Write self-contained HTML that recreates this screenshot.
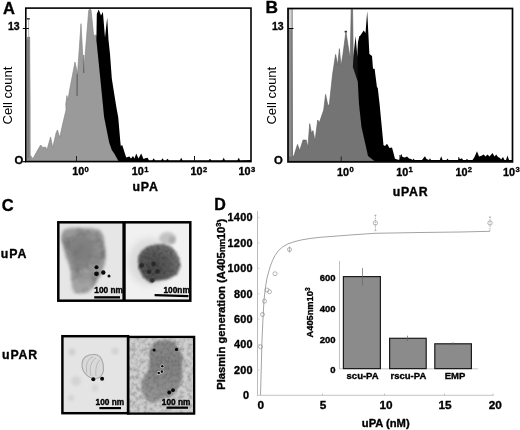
<!DOCTYPE html>
<html>
<head>
<meta charset="utf-8">
<title>Figure</title>
<style>
html,body{margin:0;padding:0;background:#fff;}
body{width:520px;height:430px;overflow:hidden;}
svg{display:block;}
text{font-family:"Liberation Sans",Arial,Helvetica,sans-serif;fill:#000;}
.b{font-weight:bold;stroke:#000;stroke-width:0.35px;stroke-linejoin:round;}
</style>
</head>
<body>
<svg width="520" height="430" viewBox="0 0 520 430">
<defs>
  <filter id="bl1" x="-20%" y="-20%" width="140%" height="140%"><feGaussianBlur stdDeviation="1.6"/></filter>
  <filter id="bl2" x="-20%" y="-20%" width="140%" height="140%"><feGaussianBlur stdDeviation="1.1"/></filter>
  <filter id="bl3" x="-30%" y="-30%" width="160%" height="160%"><feGaussianBlur stdDeviation="3"/></filter>
  <filter id="bl05" x="-20%" y="-20%" width="140%" height="140%"><feGaussianBlur stdDeviation="0.5"/></filter>
  <filter id="tex" x="-10%" y="-10%" width="120%" height="120%">
    <feGaussianBlur in="SourceGraphic" stdDeviation="1.5" result="sb"/>
    <feTurbulence type="fractalNoise" baseFrequency="0.11" numOctaves="2" seed="7" result="n"/>
    <feColorMatrix in="n" type="matrix" values="0 0 0 0 0  0 0 0 0 0  0 0 0 0 0  0.9 0 0 0 -0.36" result="a"/>
    <feComposite in="a" in2="sb" operator="in" result="t"/>
    <feMerge><feMergeNode in="sb"/><feMergeNode in="t"/></feMerge>
  </filter>
  <filter id="tex2" x="-10%" y="-10%" width="120%" height="120%">
    <feGaussianBlur in="SourceGraphic" stdDeviation="1.2" result="sb"/>
    <feTurbulence type="fractalNoise" baseFrequency="0.3" numOctaves="2" seed="11" result="n"/>
    <feColorMatrix in="n" type="matrix" values="0 0 0 0 0  0 0 0 0 0  0 0 0 0 0  0.8 0 0 0 -0.33" result="a"/>
    <feComposite in="a" in2="sb" operator="in" result="t"/>
    <feMerge><feMergeNode in="sb"/><feMergeNode in="t"/></feMerge>
  </filter>
  <filter id="bgn" x="0" y="0" width="100%" height="100%">
    <feTurbulence type="fractalNoise" baseFrequency="0.25" numOctaves="2" seed="5" result="n"/>
    <feColorMatrix in="n" type="matrix" values="0 0 0 0 0  0 0 0 0 0  0 0 0 0 0  0.9 0 0 0 -0.33" result="a"/>
    <feComposite in="a" in2="SourceGraphic" operator="in" result="t"/>
    <feMerge><feMergeNode in="SourceGraphic"/><feMergeNode in="t"/></feMerge>
  </filter>
  <radialGradient id="g2" gradientUnits="userSpaceOnUse" cx="153" cy="268" r="30">
    <stop offset="0" stop-color="#484848"/><stop offset="0.55" stop-color="#5a5a5a"/><stop offset="1" stop-color="#7a7a7a"/>
  </radialGradient>
  <linearGradient id="g4" gradientUnits="userSpaceOnUse" x1="165" y1="340" x2="160" y2="404">
    <stop offset="0" stop-color="#8a8a8a"/><stop offset="0.4" stop-color="#808080"/><stop offset="0.75" stop-color="#8e8e8e"/><stop offset="1" stop-color="#989898"/>
  </linearGradient>
  <linearGradient id="g1" gradientUnits="userSpaceOnUse" x1="80" y1="228" x2="80" y2="294">
    <stop offset="0" stop-color="#9c9c9c"/><stop offset="0.35" stop-color="#8b8b8b"/><stop offset="0.7" stop-color="#9d9d9d"/><stop offset="1" stop-color="#a5a5a5"/>
  </linearGradient>
  <clipPath id="c1"><rect x="59" y="223" width="64" height="77"/></clipPath>
  <clipPath id="c2"><rect x="126" y="223" width="63" height="77"/></clipPath>
  <clipPath id="c3"><rect x="62.5" y="336.5" width="65.5" height="76.5"/></clipPath>
  <clipPath id="c4"><rect x="128.5" y="337.5" width="65.2" height="75.8"/></clipPath>
</defs>
<rect x="0" y="0" width="520" height="430" fill="#fff"/>

<!-- ================= Panel A ================= -->
<g id="panelA">
  <text class="b" x="3" y="13.8" font-size="16.5">A</text>
  <text class="b" x="8" y="30" font-size="10.5">13</text>
  <text class="b" x="14.6" y="164" font-size="11.3">O</text>
  <line x1="22.6" y1="161.7" x2="26" y2="161.7" stroke="#000" stroke-width="1.2"/>
  <text transform="translate(12.2,124.5) rotate(-90)" font-size="13">Cell count</text>
  <!-- gray histogram -->
  <polygon fill="#9a9a9a" stroke="#808080" stroke-width="0.6" points="27,161 27.2,100 27.6,37 29.7,37 30,100 30,155 33,158.7 36,153 40.6,145 43,147.5 45.6,147 46.9,150 50.6,137 52.7,147.5 56.2,132.5 57.5,130 59.7,137.5 63,122.5 66,110 65.8,104 66.9,95.6 68,100 69.4,91 75,62 77.5,73.7 81,23.7 83.7,73 88.7,10.5 90,8.6 91.1,10.5 93.7,36 95.6,35 97,36 97,40 100.8,78.5 104.6,117 109.7,142.5 112.3,150 114.9,153.7 119,161"/>
  <line x1="77.2" y1="74" x2="77" y2="96" stroke="#444" stroke-width="0.8"/>
  <line x1="83.7" y1="55" x2="83.7" y2="73" stroke="#555" stroke-width="0.8"/>
  <polygon fill="#8c8c8c" points="26.6,160 26.6,40 27.6,37 29.7,37 30.2,100 30.4,155 30.4,160"/>
  <line x1="28.2" y1="40" x2="28.2" y2="158" stroke="#555" stroke-width="0.5"/>
  <line x1="28.6" y1="19.6" x2="28.6" y2="37" stroke="#bcbcbc" stroke-width="1.1"/>
  <rect x="26.8" y="18" width="3" height="1.6" fill="#444"/>
  <!-- black histogram -->
  <polygon fill="#000" points="96.4,40 96.8,14 98.7,9.4 101,15.6 102.9,11.9 105,37.5 107.2,17.5 108.5,40 110,54 111.8,78.5 114.4,95 116.5,108 118.2,117 120.4,142.5 120.8,146 122.2,145 126.2,157.5 129.4,156.5 131,158.5 133,156 134.5,158.5 136.2,153.5 138.5,158.5 141.2,153.5 143.5,159 146,158 147.5,157.8 149,160.3 152.4,160.3 153.7,158.3 155.0,160.3 161.2,160.3 162.5,158.3 163.8,160.3 166.2,160.3 167.5,158.8 168.8,160.3 179.9,160.3 181.2,157.8 182.5,160.3 208.7,160.3 210.0,158.8 211.3,160.3 222.4,160.3 223.7,157.8 225.0,160.3 237.4,160.3 238.7,157.8 240.0,160.3 251,160 251,161.5 118.7,161.5 114.4,153.7 111.8,150 109.2,142.5 104.1,117 100.3,78.5"/>
  <!-- axis box -->
  <rect x="25.8" y="8.1" width="225.2" height="153.5" fill="none" stroke="#000" stroke-width="1.6"/>
  <line x1="22.8" y1="28.5" x2="28.8" y2="28.5" stroke="#000" stroke-width="1"/>
  <line x1="76.5" y1="156" x2="76.5" y2="161" stroke="#222" stroke-width="1"/>
  <line x1="194.5" y1="156" x2="194.5" y2="161" stroke="#111" stroke-width="1"/>
  <!-- x labels -->
  <text class="b" x="72.2" y="175.1" font-size="10.8">10<tspan dy="-3.2" dx="0.4" font-size="7.6">0</tspan></text>
  <text class="b" x="131.8" y="175.1" font-size="10.8">10<tspan dy="-3.2" dx="0.4" font-size="7.6">1</tspan></text>
  <text class="b" x="190.6" y="175.1" font-size="10.8">10<tspan dy="-3.2" dx="0.4" font-size="7.6">2</tspan></text>
  <text class="b" x="238.6" y="175.1" font-size="10.8">10<tspan dy="-3.2" dx="0.4" font-size="7.6">3</tspan></text>
  <text class="b" x="132.4" y="190.7" font-size="12.3" letter-spacing="0.9">uPA</text>
</g>

<!-- ================= Panel B ================= -->
<g id="panelB">
  <text class="b" x="265.6" y="13.1" font-size="17.3">B</text>
  <text class="b" x="272" y="30" font-size="10.5">13</text>
  <text class="b" x="274" y="164" font-size="11.3">O</text>
  <text transform="translate(275.6,124.6) rotate(-90)" font-size="13">Cell count</text>
  <polygon fill="#747474" stroke="#5c5c5c" stroke-width="0.6" points="288.7,161 288.7,9 292,9 292.5,155 293.5,157 297.5,144.4 299.7,150.6 303,140 306.2,140 307.9,147.5 309.7,123.7 311.5,133 313,130.6 315,141 317.7,120 319.4,122.5 323.7,110 325.6,94.4 328,106 329.4,104 332.5,75 335.6,54.4 337.7,65 339.4,48.7 341,66 343,54 345.9,32 349.4,54 350,58 350.3,54 351.2,9.4 352.6,9.4 353.2,54 353.5,60 357.5,60 358.2,80 359.5,104 362,127 367.2,150 368.5,156 375,161"/>
  <rect x="289" y="9" width="3" height="19.5" fill="#d2d2d2"/>
  <rect x="289.1" y="28.5" width="2.6" height="128" fill="#8e8e8e"/>
  <line x1="292.1" y1="9" x2="292.1" y2="155" stroke="#666" stroke-width="0.6"/>
  <polygon fill="#111" points="352.9,67 353.4,56 355.6,35.9 357.4,57 358,50 358,81 357.2,80"/>
  <rect x="344.6" y="30.8" width="2.4" height="1.6" fill="#333"/>
  <polygon fill="#000" points="357.5,50 358,42 359.4,36 360,36 363.7,30.6 365.5,33 367.2,11.2 369.4,54 372,56 373,68.7 374.6,68.7 377,87.5 377.7,87.5 379.6,104 380.8,116.7 383.3,143 383.4,145 385,146 387,143.7 389.5,148 392,147.5 395,158.7 398,159.8 399.5,159.8 401.2,153.8 402.5,157 405,157.5 407,156.5 409,158.5 411,159 412.8,160 413.7,158.5 414.6,160 422,160 423.5,158 425,156.2 426.5,159 429,160 430,158.3 431,160 439.8,160 441.2,156.2 442.6,160 446.5,160 447.5,158.5 448.5,160 458,160 459,158.3 460.5,159 462,158.3 463,160 466,160 467,158.8 468,160 472.5,160 474.5,157 477,151.3 479,156.5 481,156 483.7,154.5 485.5,156.5 487.5,154.5 489.5,156.5 492.5,153 494.5,156.5 496.2,154.5 498,157 500,158 501,159.5 503,157 504.5,160 506,160 507.5,155.5 509,160 512.5,160 512.5,161.5 375,161.5 368,156 366.7,150 361.5,127 359,104 357.7,80"/>
  <rect x="288" y="8.5" width="224.5" height="153.4" fill="none" stroke="#000" stroke-width="1.7"/>
  <line x1="288" y1="28.5" x2="293.5" y2="28.5" stroke="#000" stroke-width="1"/>
  <line x1="341.2" y1="156.5" x2="341.2" y2="161" stroke="#222" stroke-width="1"/>
  <line x1="400" y1="155" x2="400" y2="161" stroke="#000" stroke-width="1"/>
  <line x1="458.7" y1="157" x2="458.7" y2="161" stroke="#000" stroke-width="0.8"/>
  <text class="b" x="337" y="175.6" font-size="10.8">10<tspan dy="-3.2" dx="0.4" font-size="7.6">0</tspan></text>
  <text class="b" x="396.2" y="175.6" font-size="10.8">10<tspan dy="-3.2" dx="0.4" font-size="7.6">1</tspan></text>
  <text class="b" x="455.4" y="175.6" font-size="10.8">10<tspan dy="-3.2" dx="0.4" font-size="7.6">2</tspan></text>
  <text class="b" x="503" y="175.6" font-size="10.8">10<tspan dy="-3.2" dx="0.4" font-size="7.6">3</tspan></text>
  <text class="b" x="392.7" y="196.4" font-size="12.3" letter-spacing="0.8">uPAR</text>
</g>

<!-- ================= Panel C ================= -->
<g id="panelC">
  <text class="b" x="1.8" y="210.6" font-size="16.5">C</text>
  <text class="b" x="0.8" y="258.2" font-size="12.3" letter-spacing="0.9">uPA</text>
  <text class="b" x="2.1" y="358.8" font-size="12.3" letter-spacing="0.8">uPAR</text>

  <!-- row 1 left -->
  <rect x="58" y="222" width="66" height="79" fill="#e6e6e6"/>
  <g clip-path="url(#c1)">
    <polygon filter="url(#tex)" fill="url(#g1)" points="61.5,234 64,229.5 72,227.8 92,228.2 100,230 103.5,236 105,248 105.8,258 104,266 100.8,275 96,283 89,292 82,293.5 75,293 72,288 71,275 70,267 66,256 63.5,248 61.7,240"/>
    <ellipse filter="url(#bl3)" cx="82" cy="250" rx="12" ry="16" fill="#787878" opacity="0.7"/>
    <circle cx="96.5" cy="267.3" r="2" fill="#0a0a0a"/>
    <circle cx="96.5" cy="273.8" r="2.4" fill="#0a0a0a"/>
    <circle cx="103.3" cy="272.5" r="2.2" fill="#0a0a0a"/>
    <circle cx="109" cy="276" r="1.5" fill="#111"/>
    <text class="b" x="94.3" y="292.6" font-size="8.3">100 nm</text>
    <rect x="94.2" y="296.2" width="25.8" height="2.3" fill="#000"/>
  </g>
  <!-- row 1 right -->
  <rect x="125" y="222" width="65" height="79" fill="#f1f1f1"/>
  <g clip-path="url(#c2)">
    <ellipse filter="url(#bl3)" cx="150" cy="262" rx="22" ry="24" fill="#dcdcdc"/>
    <ellipse filter="url(#bl1)" cx="167.5" cy="238.5" rx="8.5" ry="6.5" fill="#c2c2c2"/>
    <ellipse filter="url(#bl1)" cx="172" cy="240" rx="3" ry="3.5" fill="#a8a8a8"/>
    <polygon filter="url(#tex2)" fill="url(#g2)" points="138.2,256.3 141.5,251 146.8,246.7 155,244.5 163,243.9 171.6,246.7 176,252 179.3,258.2 180.8,265.8 177.3,274.4 167.8,279.2 155.4,281 150.6,283 143,277.3 138.2,267.7"/>
    <circle filter="url(#bl05)" cx="141.7" cy="265.5" r="2.4" fill="#2c2c2c"/>
    <circle filter="url(#bl05)" cx="153.6" cy="264" r="2.4" fill="#2c2c2c"/>
    <circle filter="url(#bl05)" cx="149.2" cy="271.8" r="2.4" fill="#2c2c2c"/>
    <circle filter="url(#bl05)" cx="157.5" cy="271.4" r="2.4" fill="#2c2c2c"/>
    <circle filter="url(#bl05)" cx="152.2" cy="280.3" r="2.4" fill="#333"/>
    <text class="b" x="163.5" y="293" font-size="8.3">100nm</text>
    <polygon fill="#000" points="154.6,294 188.5,295 188.5,297.2 154.6,296.2"/>
  </g>
  <rect x="58.3" y="222.3" width="132" height="78.4" fill="none" stroke="#000" stroke-width="2.5"/>
  <rect x="122.4" y="222" width="3.3" height="79" fill="#000"/>

  <!-- row 2 left -->
  <rect x="62" y="336" width="66.5" height="77.5" fill="#e4e4e4"/>
  <g clip-path="url(#c3)">
    <circle filter="url(#bl1)" cx="72" cy="352" r="3.5" fill="#cfcfcf"/>
    <circle filter="url(#bl1)" cx="115" cy="351" r="3.5" fill="#d2d2d2"/>
    <circle filter="url(#bl1)" cx="76" cy="381" r="5" fill="#d4d4d4"/>
    <circle filter="url(#bl1)" cx="71" cy="398" r="3" fill="#d2d2d2"/>
    <circle filter="url(#bl1)" cx="95" cy="388" r="3.5" fill="#d6d6d6"/>
    <path filter="url(#bl05)" d="M82,365 C82,357 88,354 95,354.5 C101,355 104,362 103.5,370 C103,376 99,379 94,378.5 C88,378 82,372 82,365 Z" fill="#d9d9d9" stroke="#a8a8a8" stroke-width="1.1"/>
    <path filter="url(#bl05)" d="M87,373 C85,365 88,358 93,357 M91,376 C89,368 91,361 96,358 M96,376 C95,369 97,362 100,360" fill="none" stroke="#b4b4b4" stroke-width="0.9"/>
    <circle cx="93.3" cy="379.3" r="2" fill="#0a0a0a"/>
    <circle cx="102.1" cy="378.7" r="2" fill="#0a0a0a"/>
    <text class="b" x="95.6" y="404.5" font-size="8.3">100 nm</text>
    <rect x="99.4" y="407" width="21.6" height="2.2" fill="#000"/>
  </g>
  <!-- row 2 right -->
  <rect x="128" y="337" width="66" height="76.5" fill="#cecece" filter="url(#bgn)"/>
  <g clip-path="url(#c4)">
    <path filter="url(#tex2)" fill="url(#g4)" d="M151.8,347.4 L154.6,342 L160,340.5 L165,339.8 L170,340.5 L174.7,341.8 L179.4,350 L181,353 L183.3,358.8 L181.5,364 L182.6,372 L180.4,383.6 L176.6,391 L170.8,397 L160.4,399 L154.6,403.6 L147,400.8 L142.2,393 L141.3,383.6 L145,375 L149,370 L149.9,358.8 L149,352 Z"/>
    <circle cx="154.1" cy="350" r="1.6" fill="#0a0a0a"/>
    <circle cx="176.5" cy="349.4" r="1.6" fill="#0a0a0a"/>
    <circle cx="162.3" cy="366.3" r="1.9" fill="#dedede"/>
    <circle cx="158.7" cy="373" r="1.9" fill="#dedede"/>
    <circle cx="161.9" cy="371.6" r="1.9" fill="#dedede"/>
    <circle cx="162.3" cy="366.3" r="1.3" fill="#0a0a0a"/>
    <circle cx="158.7" cy="373" r="1.3" fill="#0a0a0a"/>
    <circle cx="161.9" cy="371.6" r="1.3" fill="#0a0a0a"/>
    <circle cx="169.2" cy="392.5" r="1.9" fill="#0a0a0a"/>
    <circle cx="173" cy="390.2" r="1.9" fill="#0a0a0a"/>
    <text class="b" x="161.8" y="405" font-size="8.3">100 nm</text>
    <rect x="166.5" y="406.6" width="21.5" height="2.2" fill="#000"/>
  </g>
  <rect x="62.4" y="336.2" width="65.7" height="77" fill="none" stroke="#000" stroke-width="2.45"/>
  <rect x="128.05" y="336.9" width="66.1" height="76.7" fill="none" stroke="#000" stroke-width="2.3"/>
</g>

<!-- ================= Panel D ================= -->
<g id="panelD">
  <text class="b" x="214.3" y="210.2" font-size="16">D</text>
  <g class="b" font-size="10.9" letter-spacing="0.25" text-anchor="end">
    <text x="252.8" y="221.3">1400</text>
    <text x="252.8" y="246.7">1200</text>
    <text x="252.8" y="272.1">1000</text>
    <text x="252.8" y="297.5">800</text>
    <text x="252.8" y="322.9">600</text>
    <text x="252.8" y="348.3">400</text>
    <text x="252.8" y="373.7">200</text>
    <text x="249.2" y="399.1">0</text>
  </g>
  <text class="b" transform="translate(224.6,389.8) rotate(-90)" font-size="11.25">Plasmin generation (A405<tspan font-size="9.3" letter-spacing="-0.5">nm</tspan>10<tspan dy="-4" font-size="7.5">3</tspan><tspan dy="4">)</tspan></text>
  <line x1="257.5" y1="211" x2="257.5" y2="396" stroke="#a4a4a4" stroke-width="0.75"/>
  <path d="M257.5,217.6h2M257.5,243h2M257.5,268.4h2M257.5,293.8h2M257.5,319.2h2M257.5,344.6h2M257.5,370h2" stroke="#c8c8c8" stroke-width="0.8" fill="none"/>
  <line x1="256.8" y1="395.3" x2="493" y2="395.3" stroke="#c4c4c4" stroke-width="1"/>
  <g stroke="#c4c4c4" stroke-width="1">
    <line x1="322.5" y1="393.5" x2="322.5" y2="396"/>
    <line x1="384.5" y1="393.5" x2="384.5" y2="396"/>
    <line x1="444.5" y1="393.5" x2="444.5" y2="396"/>
    <line x1="493" y1="393.5" x2="493" y2="396"/>
  </g>
  <polyline fill="none" stroke="#929292" stroke-width="0.85" points="260.5,395 261.2,370 262,340 263,318 264,300 265.5,287 267,278 270,267 272.5,260.5 275,255.5 278.5,250.5 282.5,247 288,243.8 295,241.5 302,239.8 310,238.5 320,237.3 335,236.2 350,235 375,233.3 420,232.5 460,232 490,231.3"/>
  <g fill="none" stroke="#858585" stroke-width="0.6">
    <circle cx="260.5" cy="346.7" r="2"/>
    <circle cx="262.5" cy="314.5" r="2"/>
    <circle cx="264.5" cy="301.2" r="2"/>
    <circle cx="267" cy="290" r="2"/>
    <circle cx="269.5" cy="291.7" r="2"/>
    <circle cx="275" cy="273.7" r="2"/>
    <circle cx="289.5" cy="249.5" r="2"/>
    <line x1="289.5" y1="246.5" x2="289.5" y2="252.5"/>
    <circle cx="375.4" cy="223" r="2.2"/>
    <line x1="375.4" y1="215.2" x2="375.4" y2="230.6" stroke-dasharray="1.4 0.8"/>
    <path d="M374.4,215.2h2M374.4,230.6h2"/>
    <circle cx="490" cy="223" r="2.2"/>
    <line x1="490" y1="217" x2="490" y2="231" stroke-dasharray="1.4 0.8"/>
    <path d="M489,217h2"/>
  </g>
  <g class="b" font-size="11.8" text-anchor="middle">
    <text x="260.7" y="409.4">0</text>
    <text x="323" y="409.4">5</text>
    <text x="386" y="409.4">10</text>
    <text x="445" y="409.4">15</text>
    <text x="495.3" y="409.4">20</text>
  </g>
  <text class="b" x="361.8" y="426.5" font-size="11.2">uPA (nM)</text>

  <!-- inset -->
  <line x1="339.5" y1="261" x2="339.5" y2="369" stroke="#c0c0c0" stroke-width="1"/>
  <line x1="339.5" y1="368.8" x2="478" y2="368.8" stroke="#c8c8c8" stroke-width="1"/>
  <g class="b" font-size="9.5" text-anchor="end">
    <text x="335.5" y="281.2">600</text>
    <text x="335.5" y="311.8">400</text>
    <text x="335.5" y="343">200</text>
    <text x="335.5" y="373.4">0</text>
  </g>
  <text class="b" transform="translate(313.1,337.4) rotate(-90)" font-size="9.25">A405nm10<tspan dy="-3.5" font-size="6.5">3</tspan></text>
  <rect x="343.4" y="276.6" width="37" height="92" fill="#8b8b8b" stroke="#1c1c1c" stroke-width="1.2"/>
  <rect x="389.6" y="338.3" width="36.6" height="30.3" fill="#8b8b8b" stroke="#1c1c1c" stroke-width="1.2"/>
  <rect x="434.8" y="343.8" width="36.6" height="24.8" fill="#8b8b8b" stroke="#1c1c1c" stroke-width="1.2"/>
  <g stroke="#666" stroke-width="0.7">
    <line x1="362.5" y1="268" x2="362.5" y2="285.5"/>
    <line x1="407.5" y1="335.7" x2="407.5" y2="341"/>
    <line x1="452.8" y1="342.3" x2="452.8" y2="345.5"/>
  </g>
  <g class="b" font-size="9.5" text-anchor="middle">
    <text x="362.6" y="378.8">scu-PA</text>
    <text x="408.4" y="378.8">rscu-PA</text>
    <text x="455" y="378.8">EMP</text>
  </g>
</g>
</svg>
</body>
</html>
